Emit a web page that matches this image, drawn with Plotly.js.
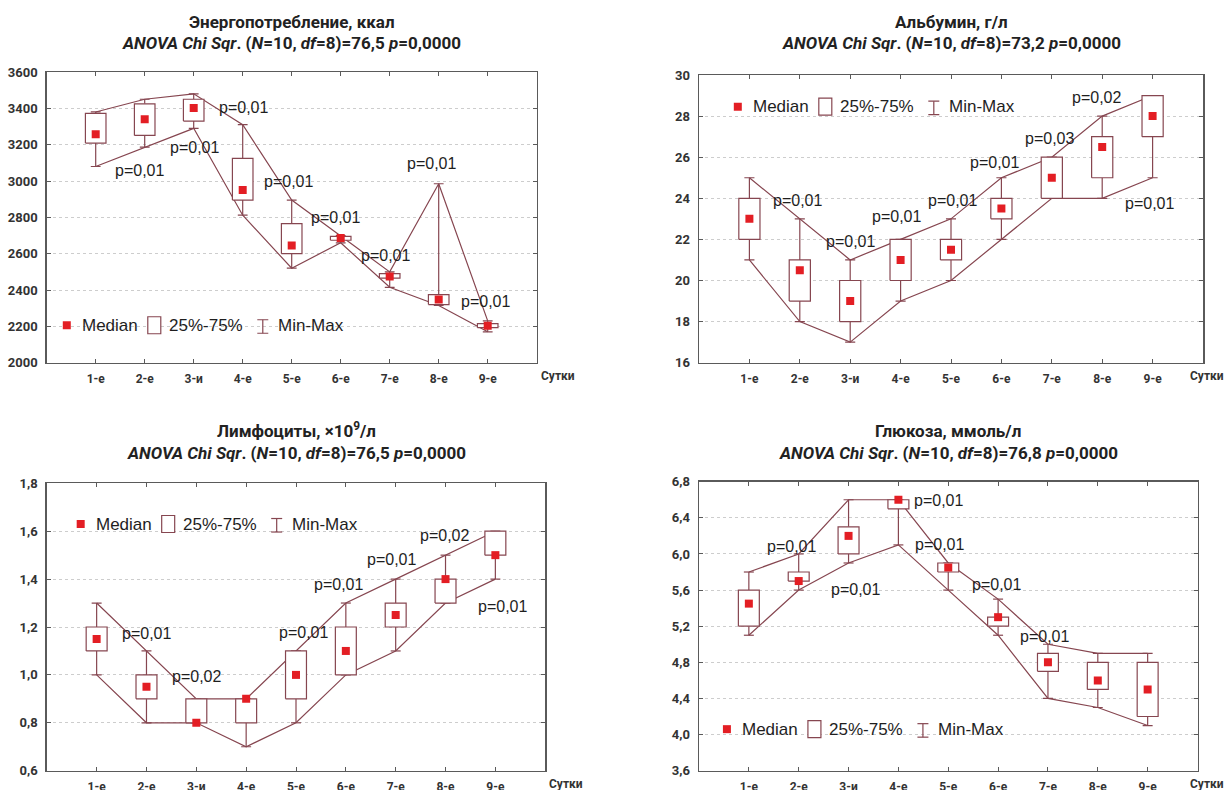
<!DOCTYPE html>
<html>
<head>
<meta charset="utf-8">
<script src="https://cdn.plot.ly/plotly-3.0.1.min.js"></script>
<style>
  html, body { margin: 0; padding: 0; background: #fff; }
  #chart { width: 1227px; height: 790px; }
</style>
</head>
<body>
<div id="chart"></div>
<script>
// ---------- DATA ----------
const days = ['1-е', '2-е', '3-и', '4-е', '5-е', '6-е', '7-е', '8-е', '9-е'];

// Энергопотребление, ккал
const energyMax = [3380, 3450, 3480, 3310, 2895, 2700, 2500, 2985, 2230];
const energyQ3  = [3372, 3425, 3450, 3125, 2765, 2695, 2490, 2375, 2215];
const energyMed = [3258, 3340, 3402, 2950, 2645, 2686, 2474, 2348, 2204];
const energyQ1  = [3209, 3251, 3330, 2895, 2600, 2674, 2465, 2320, 2193];
const energyMin = [3080, 3187, 3290, 2812, 2520, 2660, 2415, 2315, 2170];
const energyP   = ['p=0,01', 'p=0,01', 'p=0,01', 'p=0,01', 'p=0,01', 'p=0,01', 'p=0,01', 'p=0,01'];

// Альбумин, г/л
const albMax = [25, 23, 21, 22, 23, 25, 26, 28, 29];
const albQ3  = [24, 21, 20, 22, 22, 24, 26, 27, 29];
const albMed = [23, 20.5, 19, 21, 21.5, 23.5, 25, 26.5, 28];
const albQ1  = [22, 19, 18, 20, 21, 23, 24, 25, 27];
const albMin = [21, 18, 17, 19, 20, 22, 24, 24, 25];
const albP   = ['p=0,01', 'p=0,01', 'p=0,01', 'p=0,01', 'p=0,01', 'p=0,03', 'p=0,02', 'p=0,01'];

// Лимфоциты, ×10⁹/л
const lymMax = [1.3, 1.1, 0.9, 0.9, 1.1, 1.3, 1.4, 1.5, 1.6];
const lymQ3  = [1.2, 1.0, 0.9, 0.9, 1.1, 1.2, 1.3, 1.4, 1.6];
const lymMed = [1.15, 0.95, 0.8, 0.9, 1.0, 1.1, 1.25, 1.4, 1.5];
const lymQ1  = [1.1, 0.9, 0.8, 0.8, 0.9, 1.0, 1.2, 1.3, 1.5];
const lymMin = [1.0, 0.8, 0.8, 0.7, 0.8, 1.0, 1.1, 1.3, 1.4];
const lymP   = ['p=0,01', 'p=0,02', 'p=0,01', 'p=0,01', 'p=0,01', 'p=0,02', 'p=0,01'];

// Глюкоза, ммоль/л
const gluMax = [5.8, 6.0, 6.6, 6.6, 5.9, 5.5, 5.0, 4.9, 4.9];
const gluQ3  = [5.6, 5.8, 6.3, 6.6, 5.9, 5.3, 4.9, 4.8, 4.8];
const gluMed = [5.45, 5.7, 6.2, 6.6, 5.85, 5.3, 4.8, 4.6, 4.5];
const gluQ1  = [5.2, 5.7, 6.0, 6.5, 5.8, 5.2, 4.7, 4.5, 4.2];
const gluMin = [5.1, 5.6, 5.9, 6.1, 5.6, 5.1, 4.4, 4.3, 4.1];
const gluP   = ['p=0,01', 'p=0,01', 'p=0,01', 'p=0,01', 'p=0,01', 'p=0,01'];

// ---------- STYLE / LAYOUT ----------
const BROWN = '#864650';
const RED = '#e31e24';
const FRAME = '#5a5a5a';
const BOXW = 0.21, CAPW = 0.1;
const xs = days.map((d, i) => i + 1);

const panels = [
  { ax: 'x', ay: 'y', mn: energyMin, q1: energyQ1, med: energyMed, q3: energyQ3, mx: energyMax,
    title1: 'Энергопотребление, ккал', stat: '76,5',
    xdom: [46.7, 536.7], ydom: [72, 362.7], yr: [2000, 3600], dt: 200, fmt: 'd',
    p: energyP, pPos: [[1.90, 3059], [3.01, 3182], [4.01, 3404], [4.93, 2999], [5.89, 2799], [6.91, 2590], [7.85, 3096], [8.96, 2339]],
    leg: [0.41, 2206], titleY: [21.5, 43.5], sutLeft: true },
  { ax: 'x2', ay: 'y2', mn: albMin, q1: albQ1, med: albMed, q3: albQ3, mx: albMax,
    title1: 'Альбумин, г/л', stat: '73,2',
    xdom: [699, 1203], ydom: [75, 362.7], yr: [16, 30], dt: 2, fmt: 'd',
    p: albP, pPos: [[1.96, 23.87], [3.00, 21.89], [3.92, 23.10], [5.02, 23.87], [5.87, 25.75], [6.96, 26.92], [7.89, 28.90], [8.94, 23.75]],
    leg: [0.77, 28.46], titleY: [21.5, 43.5], sutLeft: false },
  { ax: 'x3', ay: 'y3', mn: lymMin, q1: lymQ1, med: lymMed, q3: lymQ3, mx: lymMax,
    title1: 'Лимфоциты, ×10<sup>9</sup>/л', stat: '76,5',
    xdom: [46.8, 545.2], ydom: [483.3, 770.7], yr: [0.6, 1.8], dt: 0.2, fmt: '.1f',
    p: lymP, pPos: [[2.00, 1.173], [3.01, 0.992], [5.16, 1.176], [5.85, 1.378], [6.92, 1.480], [7.98, 1.584], [9.14, 1.285]],
    leg: [0.68, 1.63], titleY: [430, 452.5], sutLeft: true },
  { ax: 'x4', ay: 'y4', mn: gluMin, q1: gluQ1, med: gluMed, q3: gluQ3, mx: gluMax,
    title1: 'Глюкоза, ммоль/л', stat: '76,8',
    xdom: [699, 1197.5], ydom: [481.7, 770.7], yr: [3.6, 6.8], dt: 0.4, fmt: '.1f',
    p: gluP, pPos: [[4.81, 6.597], [1.86, 6.083], [3.14, 5.608], [4.83, 6.106], [5.96, 5.663], [6.94, 5.084]],
    leg: [0.56, 4.06], titleY: [431, 452.5], sutLeft: false }
];

const W = 1227, H = 790;
const traces = [];
const shapes = [];
const annotations = [];
const layout = {
  width: W, height: H,
  margin: { l: 0, r: 0, t: 0, b: 0 },
  paper_bgcolor: '#fff', plot_bgcolor: '#fff',
  showlegend: false,
  separators: ', ',
  font: { family: 'Roboto, sans-serif', color: '#333' }
};

panels.forEach((P, k) => {
  const lineSty = { color: BROWN, width: 1.2 };
  // max & min connecting lines
  traces.push({ type: 'scatter', mode: 'lines', x: xs, y: P.mx, xaxis: P.ax, yaxis: P.ay, line: lineSty, hoverinfo: 'skip' });
  traces.push({ type: 'scatter', mode: 'lines', x: xs, y: P.mn, xaxis: P.ax, yaxis: P.ay, line: lineSty, hoverinfo: 'skip' });
  // whiskers + caps
  const wx = [], wy = [];
  xs.forEach((x, i) => {
    wx.push(x, x, null, x, x, null, x - CAPW, x + CAPW, null, x - CAPW, x + CAPW, null);
    wy.push(P.q3[i], P.mx[i], null, P.q1[i], P.mn[i], null, P.mx[i], P.mx[i], null, P.mn[i], P.mn[i], null);
  });
  traces.push({ type: 'scatter', mode: 'lines', x: wx, y: wy, xaxis: P.ax, yaxis: P.ay, line: lineSty, hoverinfo: 'skip' });
  // boxes 25%-75%
  const bx = [], by = [];
  xs.forEach((x, i) => {
    bx.push(x - BOXW, x + BOXW, x + BOXW, x - BOXW, x - BOXW, null);
    by.push(P.q1[i], P.q1[i], P.q3[i], P.q3[i], P.q1[i], null);
  });
  traces.push({ type: 'scatter', mode: 'lines', x: bx, y: by, xaxis: P.ax, yaxis: P.ay, line: lineSty,
    fill: 'toself', fillcolor: '#ffffff', hoverinfo: 'skip' });
  // medians
  traces.push({ type: 'scatter', mode: 'markers', x: xs, y: P.med, xaxis: P.ax, yaxis: P.ay,
    marker: { symbol: 'square', size: 8, color: RED, line: { width: 0 } }, hoverinfo: 'skip' });

  const xk = k === 0 ? 'xaxis' : 'xaxis' + (k + 1);
  const yk = k === 0 ? 'yaxis' : 'yaxis' + (k + 1);
  const axCommon = {
    showline: true, linecolor: FRAME, linewidth: 1.5, mirror: 'ticks',
    ticks: 'inside', ticklen: 4, tickcolor: FRAME, tickwidth: 1,
    zeroline: false, fixedrange: true
  };
  layout[xk] = Object.assign({}, axCommon, {
    domain: [P.xdom[0] / W, P.xdom[1] / W], anchor: P.ay,
    range: [0, 10], tickmode: 'array', tickvals: xs, ticktext: days, showgrid: false,
    tickfont: { family: 'Roboto, sans-serif', size: 12, color: '#333', weight: 700 },
    ticklabelstandoff: 4
  });
  layout[yk] = Object.assign({}, axCommon, {
    domain: [1 - P.ydom[1] / H, 1 - P.ydom[0] / H], anchor: P.ax,
    range: P.yr, tick0: P.yr[0], dtick: P.dt, tickformat: P.fmt,
    showgrid: true, gridcolor: '#cdcdcd', griddash: 'dot', gridwidth: 1,
    tickfont: { family: 'Roboto, sans-serif', size: 13, color: '#333', weight: 700 },
    ticklabelstandoff: 5
  });

  // titles
  const cx = (P.xdom[0] + P.xdom[1]) / 2 / W;
  const tfont = { family: 'Roboto, sans-serif', size: 17, color: '#222', weight: 700 };
  annotations.push({ xref: 'paper', yref: 'paper', x: cx, y: 1 - P.titleY[0] / H, xanchor: 'center', yanchor: 'middle',
    text: P.title1, showarrow: false, font: tfont });
  annotations.push({ xref: 'paper', yref: 'paper', x: cx, y: 1 - P.titleY[1] / H, xanchor: 'center', yanchor: 'middle',
    text: '<i>ANOVA Chi Sqr</i>. (<i>N</i>=10, <i>df</i>=8)=' + P.stat + ' <i>p</i>=0,0000', showarrow: false, font: tfont });

  // "Сутки"
  const sfont = { family: 'Roboto, sans-serif', size: 12, color: '#333', weight: 700 };
  if (P.sutLeft) {
    annotations.push({ xref: P.ax + ' domain', yref: P.ay + ' domain', x: 1, y: 0, xanchor: 'left', yanchor: 'top',
      xshift: 2, yshift: -4, text: 'Сутки', showarrow: false, font: sfont });
  } else {
    annotations.push({ xref: 'paper', yref: P.ay + ' domain', x: 1, y: 0, xanchor: 'right', yanchor: 'top',
      xshift: -1, yshift: -4, text: 'Сутки', showarrow: false, font: sfont });
  }

  // p-values
  const pfont = { family: 'Liberation Sans, Arial, sans-serif', size: 16, color: '#1e1e1e' };
  P.p.forEach((t, i) => {
    annotations.push({ xref: P.ax, yref: P.ay, x: P.pPos[i][0], y: P.pPos[i][1], text: t, showarrow: false,
      xanchor: 'center', yanchor: 'middle', font: pfont });
  });

  // legend (drawn in pixel offsets from an anchor point)
  const lx = P.leg[0], ly = P.leg[1];
  const base = { xref: P.ax, yref: P.ay, xsizemode: 'pixel', ysizemode: 'pixel', xanchor: lx, yanchor: ly };
  shapes.push(Object.assign({}, base, { type: 'rect', x0: -4, x1: 4, y0: -4, y1: 4, fillcolor: RED, line: { width: 0 } }));
  shapes.push(Object.assign({}, base, { type: 'rect', x0: 81, x1: 94, y0: -8.5, y1: 8.5, fillcolor: '#ffffff', line: { color: BROWN, width: 1.2 } }));
  shapes.push(Object.assign({}, base, { type: 'line', x0: 196, x1: 196, y0: 5.5, y1: -8, line: { color: BROWN, width: 1.2 } }));
  shapes.push(Object.assign({}, base, { type: 'line', x0: 190.5, x1: 201.5, y0: 5.5, y1: 5.5, line: { color: BROWN, width: 1.2 } }));
  shapes.push(Object.assign({}, base, { type: 'line', x0: 190.5, x1: 201.5, y0: -8, y1: -8, line: { color: BROWN, width: 1.2 } }));
  const lfont = { family: 'Liberation Sans, Arial, sans-serif', size: 17, color: '#1e1e1e' };
  [['Median', 13], ['25%-75%', 100], ['Min-Max', 209]].forEach(([t, sh]) => {
    annotations.push({ xref: P.ax, yref: P.ay, x: lx, y: ly, xshift: sh, xanchor: 'left', yanchor: 'middle',
      text: t, showarrow: false, font: lfont });
  });
});

layout.shapes = shapes;
layout.annotations = annotations;

Plotly.newPlot('chart', traces, layout, { staticPlot: true, displayModeBar: false });
</script>
</body>
</html>
